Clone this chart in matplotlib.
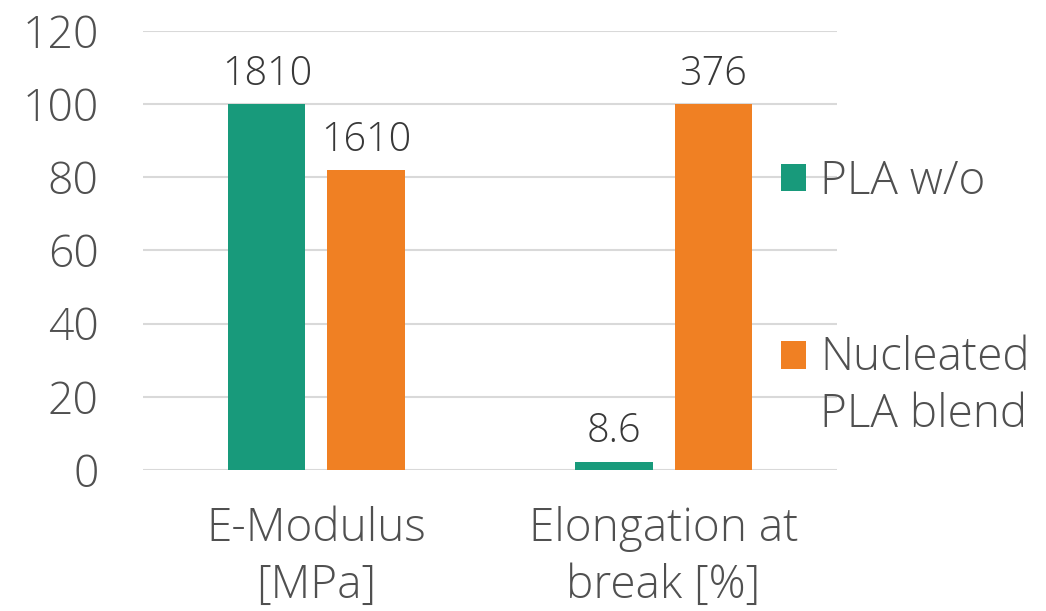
import matplotlib
matplotlib.use("Agg")
import matplotlib.pyplot as plt
import numpy as np
from matplotlib.patches import Rectangle
from matplotlib.legend_handler import HandlerPatch

plt.rcParams['font.family'] = ['Open Sans', 'DejaVu Sans']
plt.rcParams['font.weight'] = 'light'

categories = ["E-Modulus\n[MPa]", "Elongation at\nbreak [%]"]
series_names = ["PLA w/o", "Nucleated\nPLA blend"]
pla_values = [100, 2.3]          # normalized bar heights
blend_values = [82, 100]
pla_labels = ["1810", "8.6"]
blend_labels = ["1610", "376"]
yticks = [0, 20, 40, 60, 80, 100, 120]

green = "#189a7b"
orange = "#f08023"
text_grey = "#505050"
label_dark = "#383838"
FS_TICK = 32
FS_LAB = 28.5
FS_TEXT = 33
LS = 1.3

fig = plt.figure(figsize=(10.46, 6.11), dpi=100)
ax = fig.add_axes([0.1367, 0.2308, 0.8002 - 0.1367, 0.9493 - 0.2308])

x = np.arange(len(categories))
w = 0.222
off = 0.1427
b1 = ax.bar(x - off, pla_values, w, color=green, label=series_names[0], zorder=3)
b2 = ax.bar(x + off, blend_values, w, color=orange, label=series_names[1], zorder=3)

for bars, labs in ((b1, pla_labels), (b2, blend_labels)):
    for r, lab in zip(bars, labs):
        ax.annotate(lab, (r.get_x() + r.get_width() / 2, r.get_height()),
                    xytext=(0, 21.5), textcoords="offset points",
                    ha="center", va="center", fontsize=FS_LAB, color=label_dark)

ax.set_xlim(-0.5, 1.5)
ax.set_ylim(0, 120)
ax.set_yticks(yticks)
ax.set_xticks(x)
ax.set_xticklabels(categories)
ax.grid(axis="y", color="#d9d9d9", linewidth=1.5, zorder=0)
ax.set_axisbelow(True)
for s in ax.spines.values():
    s.set_visible(False)
ax.tick_params(axis="both", length=0, labelcolor=text_grey)
ax.tick_params(axis="y", pad=32, labelsize=FS_TICK)
ax.tick_params(axis="x", pad=26, labelsize=FS_TEXT)
for t in ax.get_xticklabels():
    t.set_linespacing(LS)


class TopHandler(HandlerPatch):
    """Place the legend square level with the first line of a multi-line label."""
    def __init__(self, nlines=0, **kw):
        super().__init__(**kw)
        self.nlines = nlines

    def create_artists(self, legend, orig_handle, xdescent, ydescent,
                       width, height, fontsize, trans):
        shift = self.nlines * fontsize * LS * 0.55
        p = Rectangle((-xdescent, -ydescent + shift), width, height,
                      facecolor=orig_handle.get_facecolor(), edgecolor="none",
                      transform=trans)
        return [p]


h1, h2 = b1.patches[0], b2.patches[0]
leg = ax.legend(handles=[h1, h2], labels=series_names,
                loc="upper left", bbox_to_anchor=(0.7467, 0.74),
                bbox_transform=fig.transFigure, frameon=False,
                fontsize=FS_TEXT, handlelength=0.55, handleheight=0.55,
                handletextpad=0.3, labelspacing=2.85, borderpad=0,
                borderaxespad=0,
                handler_map={h1: TopHandler(series_names[0].count("\n")),
                             h2: TopHandler(series_names[1].count("\n"))})
for t in leg.get_texts():
    t.set_color(text_grey)
    t.set_linespacing(LS)

fig.savefig("out.png", dpi=100)
